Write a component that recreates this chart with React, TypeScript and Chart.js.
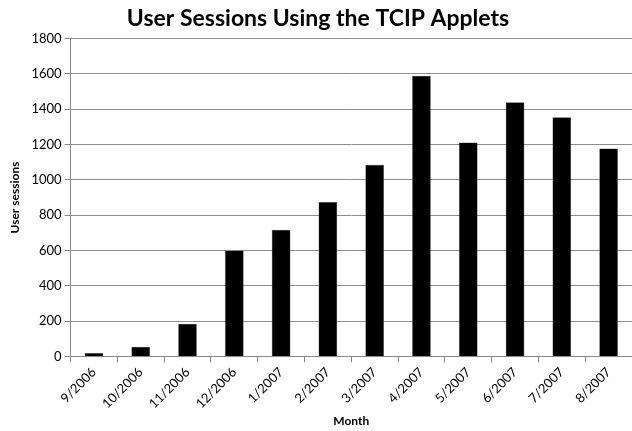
import React, { useEffect, useRef } from "react";
import { Chart, registerables } from "chart.js";

Chart.register(...registerables);

const categories = ["9/2006", "10/2006", "11/2006", "12/2006", "1/2007", "2/2007", "3/2007", "4/2007", "5/2007", "6/2007", "7/2007", "8/2007"];
const sessions = [20, 55, 185, 600, 718, 875, 1085, 1590, 1212, 1440, 1355, 1178];
const yTicks = [0, 200, 400, 600, 800, 1000, 1200, 1400, 1600, 1800];

const FONT = "Lato, 'Open Sans', sans-serif";

export default function App() {
  const ref = useRef<HTMLCanvasElement>(null);
  useEffect(() => {
    if (!ref.current) return;
    const chart = new Chart(ref.current, {
      type: "bar",
      data: {
        labels: categories,
        datasets: [
          {
            label: "User sessions",
            data: sessions,
            backgroundColor: "#000000",
            borderColor: "#555555",
            borderWidth: 0.5,
            barPercentage: 0.4,
            categoryPercentage: 1,
          },
        ],
      },
      options: {
        animation: false,
        responsive: false,
        maintainAspectRatio: false,
        layout: { padding: { top: 0, right: 0, left: 4, bottom: 3 } },
        plugins: {
          legend: { display: false },
          tooltip: { enabled: false },
          title: {
            display: true,
            text: "User Sessions Using the TCIP Applets",
            color: "#000",
            font: { family: FONT, size: 23, weight: "bold" },
            padding: { top: 5, bottom: 6 },
          },
        },
        scales: {
          x: {
            offset: true,
            grid: { offset: true, drawOnChartArea: false, drawTicks: true, tickLength: 6, color: "#888" },
            border: { color: "#888", width: 1 },
            ticks: { color: "#000", font: { family: FONT, size: 13 }, maxRotation: 45, minRotation: 45, padding: 2 },
            title: { display: true, text: "Month", color: "#000", font: { family: FONT, size: 12, weight: "bold" }, padding: { top: 0, bottom: 0 } },
          },
          y: {
            min: 0,
            max: 1800,
            afterBuildTicks: (axis: any) => {
              axis.ticks = yTicks.map((v) => ({ value: v }));
            },
            grid: { color: "#8c8c8c", tickLength: 6, drawTicks: true },
            border: { color: "#888", width: 1 },
            ticks: { color: "#000", font: { family: FONT, size: 13 }, padding: 3, callback: (v: any) => String(v) },
            title: { display: true, text: "User sessions", color: "#000", font: { family: FONT, size: 12, weight: "bold" }, padding: { bottom: 6 } },
          },
        },
      },
    });
    return () => chart.destroy();
  }, []);
  return (
    <div style={{ position: "fixed", left: 0, top: 0, width: 632, height: 431, background: "#fff" }}>
      <canvas ref={ref} width={632} height={431} style={{ width: 632, height: 431 }} />
    </div>
  );
}
